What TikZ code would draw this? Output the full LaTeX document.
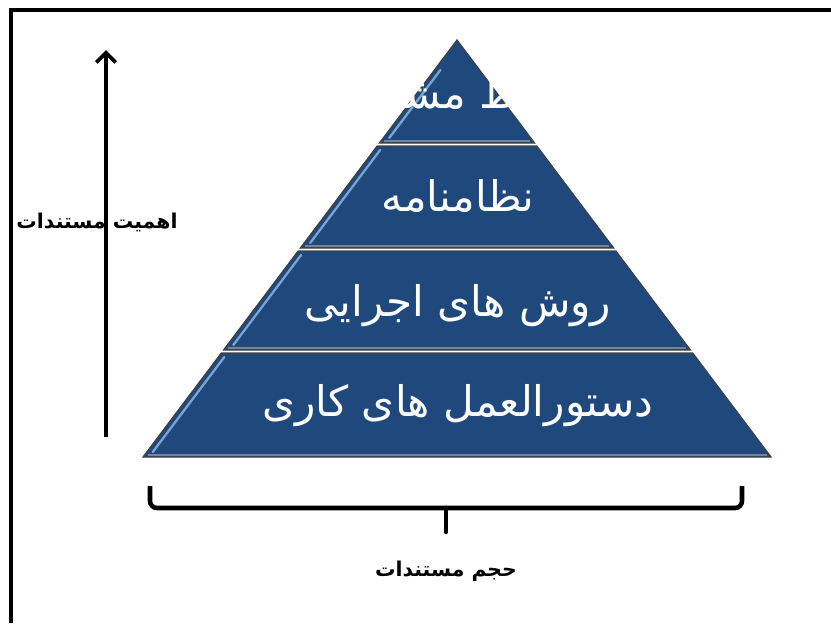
\documentclass[tikz,border=0pt]{standalone}
\usepackage{fontspec}
\newfontfamily\farsi[Script=Arabic]{DejaVu Sans}
\TeXXeTstate=1
\usepackage{tikz}
\usetikzlibrary{arrows.meta}
\usetikzlibrary{positioning}
\definecolor{layerblue}{RGB}{31,73,125}
\definecolor{bevelblue}{RGB}{140,180,228}
\definecolor{edgegray}{RGB}{120,132,150}
\tikzstyle{layer} = [fill=layerblue, draw=black!75, line width=0.7pt]
\tikzstyle{bevel} = [draw=bevelblue, line width=1.3pt, line cap=round, opacity=0.85]
\tikzstyle{layertext} = [text=white, font=\farsi\fontsize{24}{28}\selectfont]
\tikzstyle{axistext} = [text=black, font=\farsi\bfseries\fontsize{11.6}{14}\selectfont]
\tikzstyle{frame} = [draw=black, line width=2pt]
\tikzstyle{axis} = [draw=black, line width=2.2pt, -{Straight Barb[length=5.5pt,width=11pt]}]
\tikzstyle{brace} = [draw=black, line width=2.6pt, rounded corners=4pt]

\begin{document}
\begin{tikzpicture}[x=0.02cm, y=-0.02cm]
  \useasboundingbox (0,0) rectangle (831,623);
  % frame
  \draw [frame] (11,623) -- (11,10) -- (831,10);
  % pyramid layers: top / bottom in px
  \foreach \t/\b/\s in {40/143/30, 146/248/4, 251/350/4, 353/457/4} {
    \path [layer] ({457-0.753*(\t-40)},\t) -- ({457+0.753*(\t-40)},\t)
      -- ({457+0.753*(\b-40)},\b) -- ({457-0.753*(\b-40)},\b) -- cycle;
    \draw [edgegray, line width=1.6pt] ({457-0.753*(\b-42)+3},\b-2) -- ({457+0.753*(\b-42)-3},\b-2);
    \draw [bevel] ({457-0.753*(\t+\s-40)+6},\t+\s) -- ({457-0.753*(\b-45)+6},\b-5);
  }
  % layer labels
  \node [layertext] (policy) at (458,95) {\beginR خط مشی\endR};
  \node [layertext] (charter) at (458,196) {\beginR نظامنامه\endR};
  \node [layertext] (procedures) at (458,306) {\beginR روش های اجرایی\endR};
  \node [layertext] (instructions) at (458,406) {\beginR دستورالعمل های کاری\endR};
  % importance axis
  \node [axistext] (importance) at (97,222) {\beginR اهمیت مستندات\endR};
  \coordinate (axisfoot) at (106,437);
  \coordinate (axistip) at (106,50);
  \draw [axis] (axisfoot) -- (axistip);
  % volume brace
  \coordinate (braceleft) at (150,486);
  \coordinate (braceright) at (742,486);
  \coordinate (bracemid) at (446,508);
  \coordinate (bracetip) at (446,532);
  \draw [brace] (braceleft) -- (150,508) -- (742,508) -- (braceright);
  \draw [brace, line cap=round] (bracemid) -- (bracetip);
  \node [axistext, below=13pt of bracetip] (volume) {\beginR حجم مستندات\endR};
\end{tikzpicture}
\end{document}
